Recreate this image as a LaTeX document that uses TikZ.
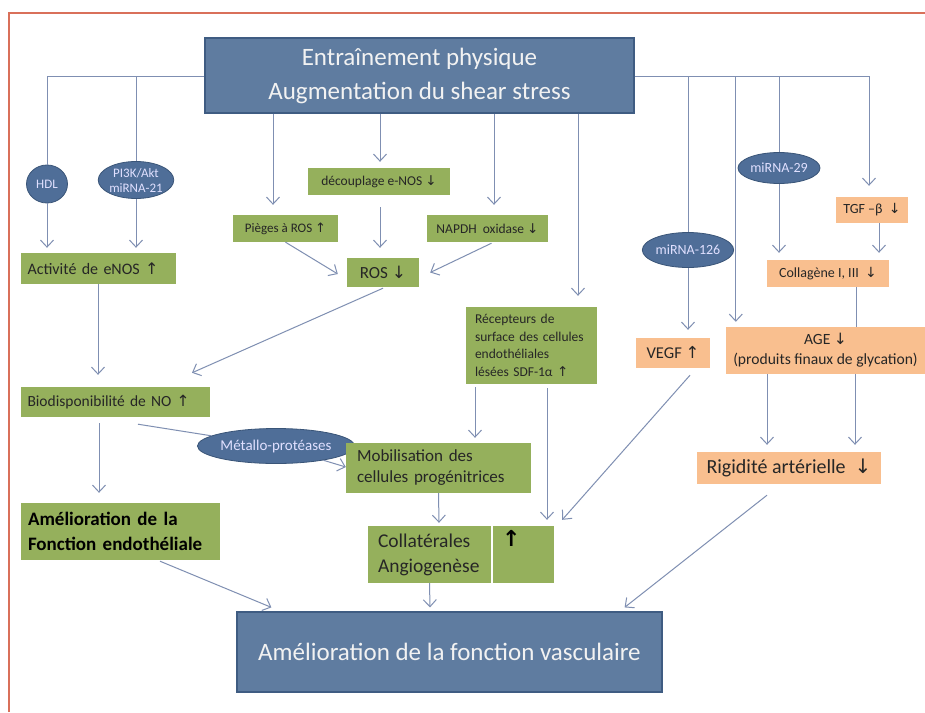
\documentclass[tikz,border=0pt]{standalone}
\usepackage{fontspec}
\setmainfont{Carlito}
\newfontfamily\dejavu{DejaVu Sans}
\usetikzlibrary{shapes.geometric,arrows.meta}
\newcommand\upar{{\dejavu ↑}}
\newcommand\dnar{{\dejavu ↓}}
\definecolor{bluebox}{HTML}{5F7CA0}
\definecolor{blueedge}{HTML}{3F5C82}
\definecolor{ellfill}{HTML}{4F6E98}
\definecolor{elledge}{HTML}{3A5578}
\definecolor{greenbox}{HTML}{95B05C}
\definecolor{orangebox}{HTML}{F9BF8F}
\definecolor{arrcol}{HTML}{7F8FB2}
\definecolor{framecol}{HTML}{D9705A}
\definecolor{txt}{HTML}{262626}
\tikzset{
  fs/.style={font=\fontsize{#1}{#1}\selectfont},
  bbox/.style={rectangle, fill=bluebox, draw=blueedge, line width=1.2pt, text=white!95!black, inner sep=0pt, align=center},
  gbox/.style={rectangle, fill=greenbox, draw=none, text=txt, inner sep=0pt},
  obox/.style={rectangle, fill=orangebox, draw=none, text=txt, inner sep=0pt},
  ell/.style={ellipse, fill=ellfill, draw=elledge, line width=0.8pt, text=white!88!blue, inner sep=0pt, align=center},
  ln/.style={draw=arrcol, line width=1pt},
  arr/.style={draw=arrcol, line width=1pt, -{Straight Barb[length=7pt,width=13pt]}},
}
\begin{document}
\begin{tikzpicture}[x=1pt,y=-1pt]
\useasboundingbox (0,0) rectangle (925,712);
\fill[white] (0,0) rectangle (925,712);
\draw[framecol, line width=1.2pt] (9,712) -- (9,13) -- (926,13);

% main boxes
\node[bbox, minimum width=429pt, minimum height=75pt, font=\fontsize{25}{34}\selectfont] (top) at (419.5,75.5) {Entraînement physique\\Augmentation du shear stress};
\node[bbox, minimum width=425pt, minimum height=80pt, font=\fontsize{25}{28}\selectfont] (bottom) at (449.5,652) {Amélioration de la fonction vasculaire};

% ellipses
\node[ell, minimum width=41pt, minimum height=38pt, fs=13] (hdl) at (47,184) {HDL};
\node[ell, minimum width=75pt, minimum height=37pt, font=\fontsize{13}{15}\selectfont] (pi3k) at (136,180) {PI3K/Akt\\miRNA-21};
\node[ell, minimum width=82pt, minimum height=31pt, fs=14] (mir29) at (779,168) {miRNA-29};
\node[ell, minimum width=84pt, minimum height=35pt, fs=14] (mir126) at (688,250) {miRNA-126};
\node[ell, minimum width=118pt, minimum height=35pt, fs=15] (metallo) at (276,446) {Métallo-protéases};

% green boxes
\node[gbox, minimum width=155pt, minimum height=31pt, text width=141pt, align=left, fs=16] (act) at (98,268.5) {Activité de eNOS \upar};
\node[gbox, minimum width=189pt, minimum height=30pt, text width=175pt, align=left, fs=15.5] (bio) at (115,402) {Biodisponibilité de NO \upar};
\node[gbox, minimum width=199pt, minimum height=57pt, text width=185pt, align=left, font=\fontsize{19}{25}\selectfont\bfseries, text=black] (amel) at (120.5,531.5) {Amélioration de la\\Fonction endothéliale};
\node[gbox, minimum width=105pt, minimum height=27pt, align=center, fs=13] (pieges) at (285.5,228.5) {Pièges à ROS \upar};
\node[gbox, minimum width=142pt, minimum height=27pt, align=center, fs=13.5] (decoup) at (379,181.5) {découplage e-NOS \dnar};
\node[gbox, minimum width=121pt, minimum height=27pt, align=center, fs=13.5] (napdh) at (487.5,228.5) {NAPDH\ \ oxidase \dnar};
\node[gbox, minimum width=72pt, minimum height=29pt, align=center, fs=17] (ros) at (383,272.5) {ROS \dnar};
\node[gbox, minimum width=131pt, minimum height=77pt, text width=113pt, align=left, font=\fontsize{13.5}{17.5}\selectfont] (recep) at (531.5,345.5) {Récepteurs de\\surface des cellules\\endothéliales\\lésées SDF-1α \upar};
\node[gbox, minimum width=185pt, minimum height=50pt, text width=163pt, align=left, font=\fontsize{17}{21}\selectfont] (mobil) at (438.5,468) {Mobilisation des\\cellules progénitrices};
\node[gbox, minimum width=123pt, minimum height=57pt, text width=103pt, align=left, font=\fontsize{19.5}{25}\selectfont] (collL) at (429.5,554.5) {Collatérales\\Angiogenèse};
\node[gbox, minimum width=61pt, minimum height=57pt] (collR) at (523.5,554.5) {};
\node[anchor=north west, inner sep=0pt, font=\fontsize{22}{24}\selectfont\bfseries, text=black] (collarrow) at (502,530) {\upar};

% orange boxes
\node[obox, minimum width=72pt, minimum height=26pt, align=center, fs=14] (tgf) at (872,210) {TGF –β \ \dnar};
\node[obox, minimum width=122pt, minimum height=27pt, align=center, fs=14] (collag) at (828,273.5) {Collagène I, III \ \dnar};
\node[obox, minimum width=74pt, minimum height=30pt, align=center, fs=16.5] (vegf) at (673,353) {VEGF \upar};
\node[obox, minimum width=199pt, minimum height=47pt, align=center, font=\fontsize{15.6}{20}\selectfont] (age) at (825.5,350.5) {AGE \dnar\\(produits finaux de glycation)};
\node[obox, minimum width=184pt, minimum height=32pt, align=center, fs=20] (rig) at (789,468) {Rigidité artérielle \ \dnar};

% top distribution line
\coordinate (hL) at (47,76);
\coordinate (hR) at (869,76);
\draw[ln] (hL) -- (hL -| top.west);
\draw[ln] (hL -| top.east) -- (hR);
\draw[ln] (hL) -- (hdl.north);
\draw[ln] (hL -| pi3k.north) -- (pi3k.north);
\draw[arr] (hdl.south) -- ([yshift=5pt]hdl.south |- act.north);
\draw[arr] (pi3k.south) -- ([yshift=5pt]pi3k.south |- act.north);
\draw[arr] ([xshift=0pt]act.south) -- ([xshift=-17pt,yshift=12pt]bio.north);
\draw[arr] ([xshift=-16pt,yshift=-6pt]bio.south) -- ([xshift=-21.5pt,yshift=10pt]amel.north);
\draw[ln] ([xshift=23pt,yshift=-7pt]bio.south) -- (metallo);
\draw[arr] (metallo) -- ([yshift=1pt]mobil.west);

% from top box
\draw[arr] ([xshift=-146.5pt]top.south) -- ([xshift=-12.5pt,yshift=10pt]pieges.north);
\draw[arr] ([xshift=-39.5pt]top.south) -- ([xshift=1pt,yshift=6pt]decoup.north);
\draw[arr] ([xshift=74.5pt]top.south) -- ([xshift=6.5pt,yshift=10pt]napdh.north);
\draw[arr] ([xshift=158.5pt]top.south) -- ([xshift=46.5pt,yshift=11pt]recep.north);

% ROS block
\draw[arr] ([xshift=1pt,yshift=-12pt]decoup.south) -- ([xshift=-3pt,yshift=10pt]ros.north);
\draw[arr] (pieges.south) -- ([xshift=-9pt,yshift=-1.5pt]ros.west);
\draw[arr] ([xshift=4pt,yshift=-1pt]napdh.south) -- ([xshift=11pt]ros.east);
\draw[arr] ([yshift=-1pt]ros.south) -- ([xshift=77pt,yshift=14pt]bio.north);

% middle
\draw[arr] ([xshift=-56.5pt,yshift=-3pt]recep.south) -- ([xshift=36.5pt,yshift=5pt]mobil.north);
\draw[arr] ([xshift=15.5pt,yshift=-4pt]recep.south) -- ([xshift=23.5pt,yshift=6pt]collR.north);
\draw[arr] ([xshift=17pt,yshift=-7pt]vegf.south) -- ([xshift=8pt,yshift=6pt]collR.north east);
\draw[arr] (mobil.south) -- ([xshift=9.5pt,yshift=3pt]collL.north);

% to bottom
\draw[arr] (collL.south) -- ([xshift=-19.5pt,yshift=4pt]bottom.north);
\draw[arr] ([xshift=39.5pt,yshift=-1pt]amel.south) -- ([xshift=35pt,yshift=4pt]bottom.north west);
\draw[arr] ([xshift=-22pt,yshift=-11pt]rig.south) -- ([xshift=-38pt,yshift=4pt]bottom.north east);

% right side
\draw[ln] (mir126.north |- hR) -- (mir126.north);
\draw[arr] (mir126.south) -- ([yshift=8pt]mir126.south |- vegf.north);
\coordinate (age736) at ([xshift=10pt]age.north west);
\draw[arr] (age736 |- hR) -- ([yshift=5pt]age736);
\draw[ln] (mir29.north |- hR) -- (mir29.north);
\draw[arr] (mir29.south) -- ([yshift=7pt]mir29.south |- collag.north);
\draw[arr] (hR) -- ([xshift=-3pt,yshift=11pt]tgf.north);
\draw[arr] ([xshift=7pt]tgf.south) -- ([xshift=51pt,yshift=7pt]collag.north);
\draw[ln] ([xshift=28pt]collag.south) -- ([xshift=30.5pt]age.north);
\draw[arr] ([xshift=-58.5pt]age.south) -- ([xshift=-22pt,yshift=7pt]rig.north);
\draw[arr] ([xshift=29.5pt]age.south) -- ([xshift=66pt,yshift=7pt]rig.north);
\end{tikzpicture}
\end{document}
